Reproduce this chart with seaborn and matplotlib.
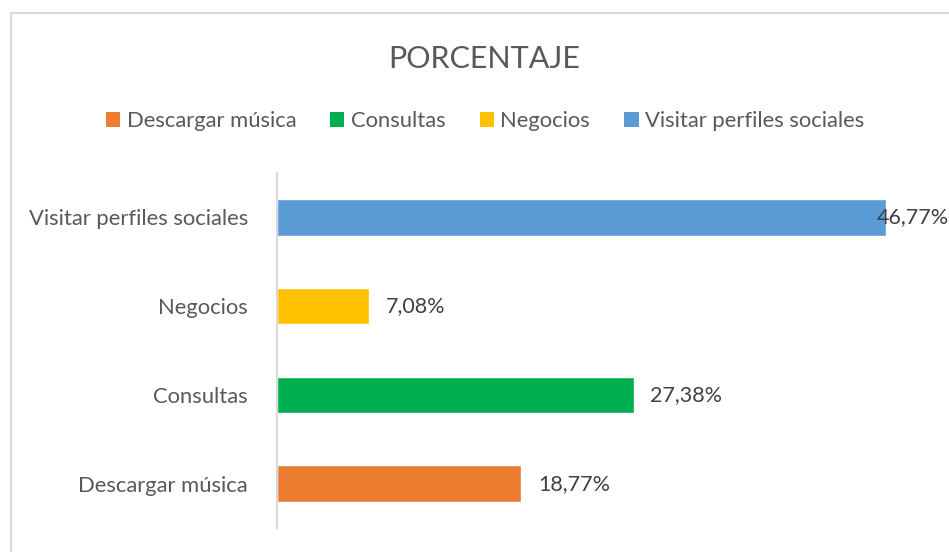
import matplotlib
matplotlib.use('Agg')
import matplotlib.pyplot as plt
import seaborn as sns
import pandas as pd
from matplotlib.patches import Patch, Rectangle

# data (legend order)
categories = ['Descargar música', 'Consultas', 'Negocios', 'Visitar perfiles sociales']
percentages = [18.77, 27.38, 7.08, 46.77]
colors = ['#ED7D31', '#00B050', '#FFC000', '#5B9BD5']

df = pd.DataFrame({'categoria': categories, 'porcentaje': percentages})
plot_order = categories[::-1]
palette = dict(zip(categories, colors))

sns.set_theme(style='white')
plt.rcParams['font.family'] = ['Lato', 'DejaVu Sans']
text_color = '#595959'

fig = plt.figure(figsize=(9.49, 5.52), dpi=100)
ax = fig.add_axes([277/949, 1 - 528/552, (886 - 277)/949, (528 - 173)/552])

sns.barplot(data=df, y='categoria', x='porcentaje', hue='categoria', order=plot_order,
            hue_order=categories, palette=palette, dodge=False, legend=False,
            width=0.41, saturation=1, ax=ax)

ax.set_xlim(0, max(percentages))
ax.set_ylim(3.5, -0.5)
ax.set_xlabel('')
ax.set_ylabel('')
ax.set_xticks([])
for side in ['top', 'right', 'bottom']:
    ax.spines[side].set_visible(False)
ax.spines['left'].set_color('#d9d9d9')
ax.spines['left'].set_linewidth(1.5)
ax.tick_params(axis='y', length=0, pad=21, labelsize=15.8, labelcolor=text_color)

# value labels
vmax = max(percentages)
for cat, val in zip(categories, percentages):
    y = plot_order.index(cat)
    label = f'{val:.2f}'.replace('.', ',') + '%'
    off = -7 if val == vmax else 12
    ax.annotate(label, xy=(val, y), xytext=(off, 0), textcoords='offset points',
                ha='left', va='center', fontsize=15.5, color='#404040',
                annotation_clip=False)

fig.text(484/949, 1 - 59/552, 'PORCENTAJE', ha='center', va='center',
         fontsize=22, color=text_color)

handles = [Patch(facecolor=c, edgecolor='none') for c in colors]
fig.legend(handles, categories, loc='center', bbox_to_anchor=(485/949, 1 - 121/552),
           ncol=4, frameon=False, fontsize=15.8, labelcolor=text_color,
           handlelength=0.65, handleheight=0.65, handletextpad=0.3, columnspacing=1.55)

# chart border
fig.patches.append(Rectangle((11/949, -0.1), 1.2, 1 - 13/552 + 0.1, transform=fig.transFigure,
                             fill=False, edgecolor='#d9d9d9', linewidth=1.5))

fig.savefig('out.png', dpi=100)
